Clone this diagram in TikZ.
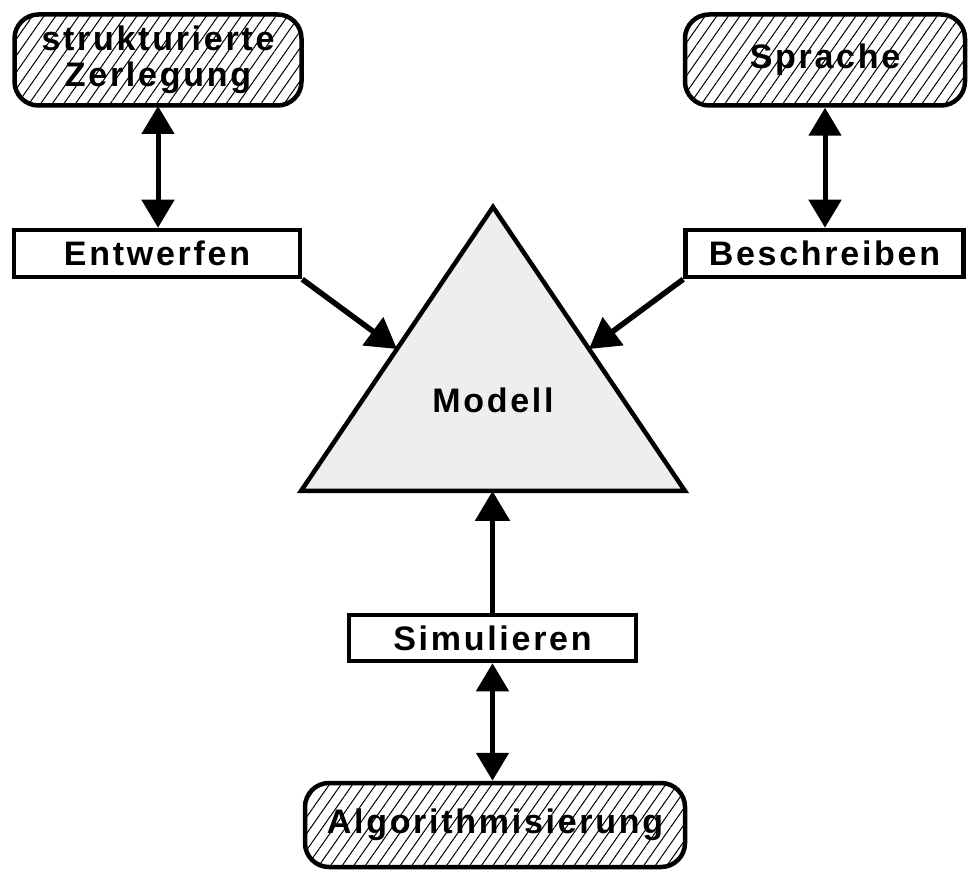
\documentclass[tikz,border=0pt]{standalone}
\usepackage{fontspec}
\newfontfamily\labfont{Liberation Sans Bold}[LetterSpace=8]
\usetikzlibrary{arrows.meta,patterns.meta,calc}
\tikzset{
  lab/.style={font=\labfont\fontsize{34}{36}\selectfont},
  hatchbox/.style={lab, draw, line width=4.5pt, rounded corners=24pt, align=center, inner sep=0pt,
    pattern={Lines[angle=55,distance=9.5pt,line width=1pt]}},
  actbox/.style={lab, draw, line width=4.5pt, fill=white, inner sep=0pt},
  dbl/.style={line width=5pt, {Triangle[length=28pt,width=32pt]}-{Triangle[length=28pt,width=32pt]}},
  arr/.style={line width=5.5pt, -{Triangle[length=30pt,width=34pt]}},
}
\begin{document}
\begin{tikzpicture}[x=1pt,y=-1pt]
\useasboundingbox (0,0) rectangle (970,874);
% triangle
\coordinate (A) at (493,207);
\coordinate (L) at (301,491);
\coordinate (R) at (685,491);
\draw[line width=4.5pt, fill={rgb,255:red,238;green,238;blue,238}, line join=miter] (A) -- (L) -- (R) -- cycle;
\coordinate (TL) at ($(L)!0.5!(A)$);
\coordinate (TR) at ($(R)!0.5!(A)$);
\node[lab] (mod) at (493,400) {Modell};
% boxes
\node[hatchbox, minimum width=287pt, minimum height=91pt] (sz) at (158,60) {strukturierte\\Zerlegung};
\node[hatchbox, minimum width=280pt, minimum height=91pt] (sp) at (825,60) {Sprache};
\node[actbox, minimum width=286pt, minimum height=47pt] (ent) at (157,253.5) {Entwerfen};
\node[actbox, minimum width=278pt, minimum height=47pt] (bes) at (824.5,253.5) {Beschreiben};
\node[actbox, minimum width=287pt, minimum height=46pt] (sim) at (492.5,638) {Simulieren};
\node[hatchbox, minimum width=380pt, minimum height=84pt] (alg) at (495,825) {Algorithmisierung};
% connectors
\draw[dbl] (sz.south) -- (sz.south |- ent.north);
\draw[dbl] (sp.south) -- (sp.south |- bes.north);
\draw[arr] (ent.south east) -- (TL);
\draw[arr] (bes.south west) -- (TR);
\draw[arr] (sim.north) -- (sim.north |- L);
\draw[dbl] (sim.south) -- (sim.south |- alg.north);
\end{tikzpicture}
\end{document}
